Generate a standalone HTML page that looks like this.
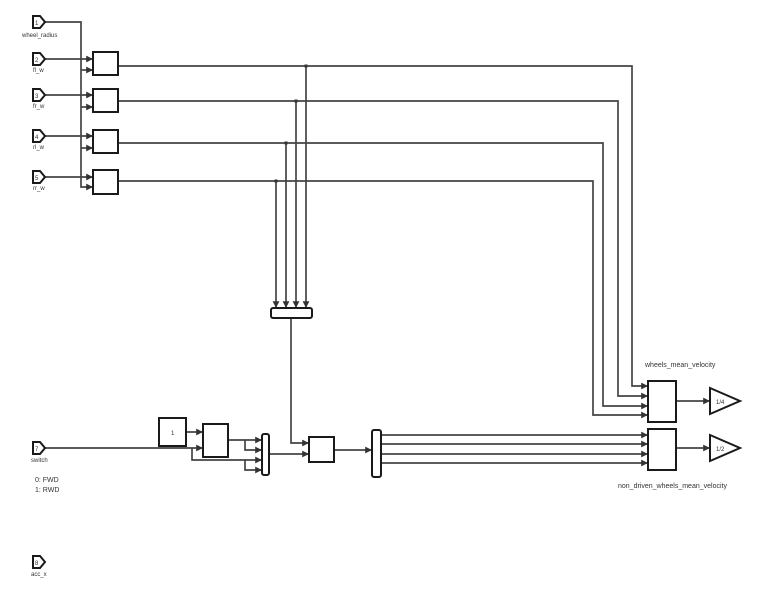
<!DOCTYPE html>
<html><head><style>
body{margin:0;background:#fff;}
svg{display:block;font-family:"Liberation Sans",sans-serif;}
</style></head><body>
<svg width="780" height="595" viewBox="0 0 780 595" xmlns="http://www.w3.org/2000/svg">
<defs><marker id="a" markerWidth="4" markerHeight="4" refX="4" refY="2" orient="auto"><path d="M0,0L4,2L0,4z" fill="#333"/></marker></defs>
<g fill="none" stroke="#444" stroke-width="1.7">
<path d="M44,22H81V187H93" marker-end="url(#a)"/>
<path d="M81,70H93" marker-end="url(#a)"/><path d="M81,107H93" marker-end="url(#a)"/><path d="M81,148H93" marker-end="url(#a)"/>
<path d="M44,59H93" marker-end="url(#a)"/><path d="M44,95H93" marker-end="url(#a)"/><path d="M44,136H93" marker-end="url(#a)"/><path d="M44,177H93" marker-end="url(#a)"/>
<path d="M118,66H632V386H648" marker-end="url(#a)"/>
<path d="M118,101H618V396H648" marker-end="url(#a)"/>
<path d="M118,143H603V406H648" marker-end="url(#a)"/>
<path d="M118,181H593V415H648" marker-end="url(#a)"/>
<path d="M306,66V308" marker-end="url(#a)"/><path d="M296,101V308" marker-end="url(#a)"/><path d="M286,143V308" marker-end="url(#a)"/><path d="M276,181V308" marker-end="url(#a)"/>
<path d="M291,318V443H309" marker-end="url(#a)"/>
<path d="M44,448H203" marker-end="url(#a)"/>
<path d="M186,432H203" marker-end="url(#a)"/>
<path d="M192,448V460H245V470H262" marker-end="url(#a)"/><path d="M245,460H262" marker-end="url(#a)"/>
<path d="M228,440H262" marker-end="url(#a)"/><path d="M245,440V450H262" marker-end="url(#a)"/>
<path d="M269,454H309" marker-end="url(#a)"/>
<path d="M334,450H372" marker-end="url(#a)"/>
<path d="M381,435H648" marker-end="url(#a)"/><path d="M381,444H648" marker-end="url(#a)"/><path d="M381,454H648" marker-end="url(#a)"/><path d="M381,463H648" marker-end="url(#a)"/>
<path d="M676,401H710" marker-end="url(#a)"/><path d="M676,448H710" marker-end="url(#a)"/>
</g>
<g fill="#333"><rect x="304.5" y="64.5" width="3" height="3"/><rect x="294.5" y="99.5" width="3" height="3"/><rect x="284.5" y="141.5" width="3" height="3"/><rect x="274.5" y="179.5" width="3" height="3"/></g>
<g fill="#fff" stroke="#1a1a1a" stroke-width="2">
<rect x="93" y="52" width="25" height="23"/><rect x="93" y="89" width="25" height="23"/><rect x="93" y="130" width="25" height="23"/><rect x="93" y="170" width="25" height="24"/>
<rect x="271" y="308" width="41" height="10" rx="2"/>
<rect x="159" y="418" width="27" height="28"/>
<rect x="203" y="424" width="25" height="33"/>
<rect x="262" y="434" width="7" height="41" rx="2"/>
<rect x="309" y="437" width="25" height="25"/>
<rect x="372" y="430" width="9" height="47" rx="2"/>
<rect x="648" y="381" width="28" height="41"/>
<rect x="648" y="429" width="28" height="41"/>
<path d="M710,388L740,401L710,414Z"/><path d="M710,435L740,448L710,461Z"/>
<path d="M33,16h7l5,6l-5,6h-7z"/><path d="M33,53h7l5,6l-5,6h-7z"/><path d="M33,89h7l5,6l-5,6h-7z"/><path d="M33,130h7l5,6l-5,6h-7z"/><path d="M33,171h7l5,6l-5,6h-7z"/>
<path d="M33,442h7l5,6l-5,6h-7z"/><path d="M33,556h7l5,6l-5,6h-7z"/>
</g>
<g font-size="6" fill="#333">
<text x="35" y="25">1</text><text x="35" y="62">2</text><text x="35" y="98">3</text><text x="35" y="139">4</text><text x="35" y="180">5</text><text x="35" y="451">7</text><text x="35" y="565">8</text>
<text x="22" y="37">wheel_radius</text><text x="33" y="72">fl_w</text><text x="33" y="108">fr_w</text><text x="33" y="149">rl_w</text><text x="33" y="190">rr_w</text>
<text x="31" y="462">switch</text><text x="31" y="576">acc_x</text>
<text x="171" y="435">1</text>
<text x="716" y="404">1/4</text><text x="716" y="451">1/2</text>
</g>
<g font-size="7" fill="#333">
<text x="35" y="482">0: FWD</text><text x="35" y="492">1: RWD</text>
<text x="645" y="367">wheels_mean_velocity</text>
<text x="618" y="488">non_driven_wheels_mean_velocity</text>
</g>
</svg>
</body></html>
